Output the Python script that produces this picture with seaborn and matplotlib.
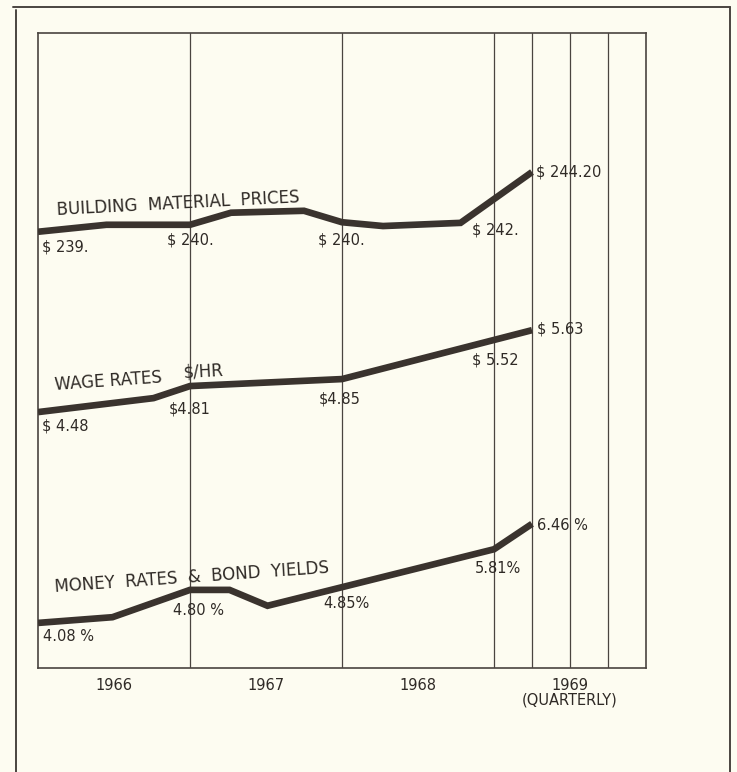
import pandas as pd
import numpy as np
import seaborn as sns
import matplotlib.pyplot as plt
from matplotlib.lines import Line2D

# values; heights are the drawn height in the panel (0 = bottom, 100 = top)
building_years = [1966.0, 1966.45, 1967.0, 1967.27, 1967.75, 1968.0, 1968.27, 1968.78, 1969.25]
building_height = [68.7, 69.8, 69.8, 71.7, 72.0, 70.2, 69.6, 70.1, 78.1]

wage_years = [1966.0, 1966.76, 1967.0, 1968.0, 1969.25]
wage_height = [40.3, 42.5, 44.4, 45.5, 53.2]

money_years = [1966.0, 1966.49, 1967.0, 1967.26, 1967.51, 1969.0, 1969.25]
money_height = [7.1, 8.0, 12.3, 12.3, 9.8, 18.7, 22.7]

series_names = ['BUILDING MATERIAL PRICES', 'WAGE RATES', 'MONEY RATES & BOND YIELDS']
# lettering on the chart is widely spaced
series_titles = ['BUILDING  MATERIAL  PRICES', 'WAGE RATES', 'MONEY  RATES  &  BOND  YIELDS']

# value labels: text, left x (year), centre height
value_labels = ['$ 239.', '$ 240.', '$ 240.', '$ 242.', '$ 244.20',
                '$ 4.48', '$4.81', '$4.85', '$ 5.52', '$ 5.63',
                '4.08 %', '4.80 %', '4.85%', '5.81%', '6.46 %']
label_x = [1966.026, 1966.849, 1967.842, 1968.855, 1969.276,
           1966.026, 1966.862, 1967.849, 1968.855, 1969.283,
           1966.033, 1966.888, 1967.875, 1968.875, 1969.283]
label_h = [66.3, 67.4, 67.4, 69.0, 78.1,
           38.1, 40.8, 42.4, 48.5, 53.4,
           4.9, 9.0, 10.2, 15.7, 22.5]

year_ticks = [1966.5, 1967.5, 1968.5, 1969.5]
year_labels = ['1966', '1967', '1968', '1969\n(QUARTERLY)']
grid_years = [1967, 1968, 1969, 1969.25, 1969.5, 1969.75]

paper = '#fdfcf1'
ink = '#3a332e'
text_ink = '#2f2a26'

df = pd.concat([
    pd.DataFrame({'year': building_years, 'height': building_height, 'series': series_names[0]}),
    pd.DataFrame({'year': wage_years, 'height': wage_height, 'series': series_names[1]}),
    pd.DataFrame({'year': money_years, 'height': money_height, 'series': series_names[2]}),
])

sns.set_style('white')
plt.rcParams['font.family'] = ['DejaVu Sans']

fig = plt.figure(figsize=(7.37, 7.72), dpi=100, facecolor=paper)
ax = fig.add_axes([38 / 737, 1 - 668 / 772, 608 / 737, 635 / 772])
ax.set_facecolor(paper)

for x in grid_years:
    ax.axvline(x, color='#4a4440', lw=0.9, zorder=1)

sns.lineplot(data=df, x='year', y='height', hue='series', sort=False,
             palette={s: ink for s in series_names}, linewidth=4.8,
             legend=False, ax=ax, zorder=3)
for line in ax.get_lines():
    if line.get_linewidth() > 2:
        line.set_solid_joinstyle('miter')
        line.set_solid_capstyle('butt')

ax.set_xlim(1966, 1970)
ax.set_ylim(0, 100)
ax.set_xticks(year_ticks)
ax.set_xticklabels(year_labels, fontsize=10.5, color=text_ink, linespacing=0.95)
ax.tick_params(axis='x', length=0, pad=7)
ax.set_yticks([])
ax.set_xlabel('')
ax.set_ylabel('')
for sp in ax.spines.values():
    sp.set_color('#4a4440')
    sp.set_linewidth(1.2)

for txt, x, h in zip(value_labels, label_x, label_h):
    ax.text(x, h, txt, ha='left', va='center', fontsize=10.5, color=text_ink, zorder=4)

ax.text(1966.125, 71.3, series_titles[0], ha='left', va='baseline', rotation=3,
        rotation_mode='anchor', fontsize=12, color=text_ink)
ax.text(1966.112, 43.8, series_titles[1], ha='left', va='baseline', rotation=4,
        rotation_mode='anchor', fontsize=12, color=text_ink)
ax.text(1966.954, 45.8, '$/HR', ha='left', va='baseline', rotation=3,
        rotation_mode='anchor', fontsize=12, color=text_ink)
ax.text(1966.112, 12.0, series_titles[2], ha='left', va='baseline', rotation=4,
        rotation_mode='anchor', fontsize=12, color=text_ink)

# outer frame of the page
fig.add_artist(Line2D([13 / 737, 730 / 737], [1 - 7 / 772, 1 - 7 / 772], color='#4a4440', lw=1.4))
fig.add_artist(Line2D([16 / 737, 16 / 737], [1 - 10 / 772, 0], color='#4a4440', lw=1.4))
fig.add_artist(Line2D([730 / 737, 730 / 737], [1 - 7 / 772, 0], color='#4a4440', lw=1.4))

fig.savefig('out.png', dpi=100, facecolor=paper)
